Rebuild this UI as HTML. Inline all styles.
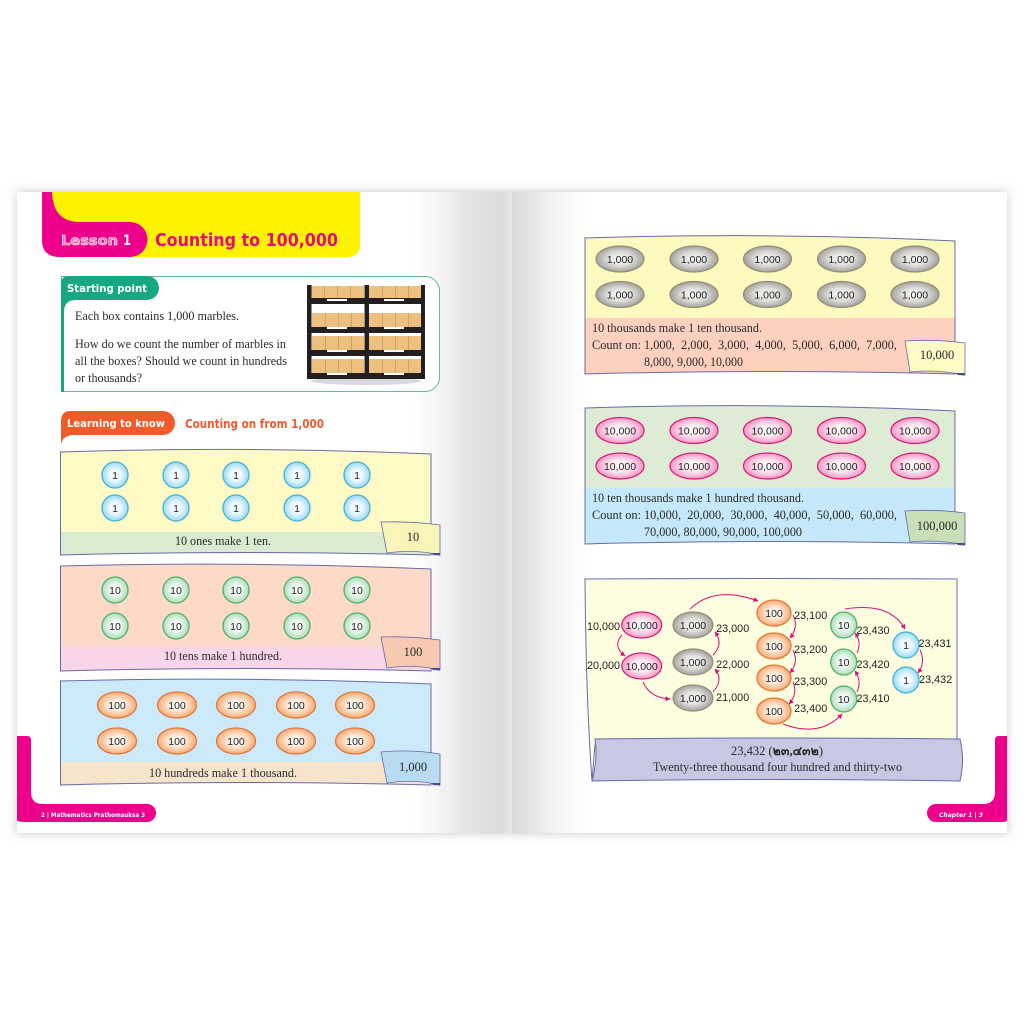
<!DOCTYPE html>
<html><head><meta charset="utf-8">
<style>
html,body{margin:0;padding:0;background:#fff;width:1024px;height:1024px;overflow:hidden}
svg{display:block}
.s{font-family:"Liberation Serif",serif;font-size:12.5px;fill:#2b2b2b;white-space:pre}
.c{font-family:"Liberation Sans",sans-serif;font-size:10.5px;fill:#222;text-anchor:middle}
.l{font-family:"Liberation Sans",sans-serif;font-size:10.8px;fill:#222;text-anchor:middle}
.p{stroke:#6a6aa8;stroke-width:1;fill:none}
.a{fill:none;stroke:#d6147f;stroke-width:1;marker-end:url(#ah)}
.b1{fill:url(#g1);stroke:#3fb3d8;stroke-width:1.3}
.b2{fill:url(#g2);stroke:#4fb36c;stroke-width:1.3}
.b3{fill:url(#g3);stroke:#e2773a;stroke-width:1.3}
.b4{fill:url(#g4);stroke:#938d78;stroke-width:1.2}
.b5{fill:url(#g5);stroke:#d81b78;stroke-width:1.2}
</style></head><body>
<svg width="1024" height="1024" viewBox="0 0 1024 1024" xmlns="http://www.w3.org/2000/svg">
<defs>
<linearGradient id="lp" x1="0" x2="1" y1="0" y2="0">
<stop offset="0" stop-color="#fff"/><stop offset=".8" stop-color="#fff"/><stop offset=".87" stop-color="#f0f0f0"/><stop offset=".9" stop-color="#e6e6e6"/><stop offset=".98" stop-color="#dbdbdb"/><stop offset="1" stop-color="#e9e9e9"/></linearGradient>
<linearGradient id="rp" x1="0" x2="1" y1="0" y2="0">
<stop offset="0" stop-color="#d9d9d9"/><stop offset=".07" stop-color="#efefef"/><stop offset=".13" stop-color="#fcfcfc"/><stop offset=".16" stop-color="#fff"/><stop offset="1" stop-color="#fff"/></linearGradient>
<radialGradient id="g1"><stop offset="0" stop-color="#fff"/><stop offset=".45" stop-color="#eaf8fe"/><stop offset="1" stop-color="#9bd9f4"/></radialGradient>
<radialGradient id="g2"><stop offset="0" stop-color="#fff"/><stop offset=".45" stop-color="#eaf7ee"/><stop offset="1" stop-color="#aedcba"/></radialGradient>
<radialGradient id="g3"><stop offset="0" stop-color="#fff"/><stop offset=".4" stop-color="#fdeedf"/><stop offset="1" stop-color="#f8ac74"/></radialGradient>
<radialGradient id="g4"><stop offset="0" stop-color="#fafafa"/><stop offset=".5" stop-color="#e0dfdd"/><stop offset="1" stop-color="#a5a29d"/></radialGradient>
<radialGradient id="g5"><stop offset="0" stop-color="#fff"/><stop offset=".45" stop-color="#fdeaf3"/><stop offset="1" stop-color="#f596c5"/></radialGradient>
<marker id="ah" markerWidth="6" markerHeight="6" refX="4.5" refY="2.5" orient="auto" markerUnits="userSpaceOnUse"><path d="M0,0L5,2.5L0,5Z" fill="#d6147f"/></marker>
<filter id="sh" x="-5%" y="-5%" width="110%" height="110%"><feGaussianBlur stdDeviation="5"/></filter>
<clipPath id="c1"><path d="M60,452Q245,446 431,454V555Q245,550 60,555Z"/></clipPath>
<clipPath id="c2"><path d="M60,566Q245,561 431,569V671Q245,666 60,671Z"/></clipPath>
<clipPath id="c3"><path d="M60,681Q245,676 431,684V785Q245,780 60,785Z"/></clipPath>
<clipPath id="c4"><path d="M585,238Q770,232 955,241V374Q770,369 585,374Z"/></clipPath>
<clipPath id="c5"><path d="M585,408Q770,402 955,411V544Q770,539 585,544Z"/></clipPath>
</defs>

<!-- page -->
<rect x="17" y="192" width="990" height="641" fill="#888" opacity=".45" filter="url(#sh)"/>
<rect x="17" y="192" width="495" height="641" fill="url(#lp)"/>
<rect x="512" y="192" width="495" height="641" fill="url(#rp)"/>

<!-- header -->
<path d="M52,192H360V245Q360,257 346,257H100V222H80Q53,222 52,192Z" fill="#fff200"/>
<path d="M42,192H52Q53,222 80,222H130A17.5,17.5 0 0 1 130,257H60Q42,257 42,240Z" fill="#ec008c"/>
<text x="61" y="245" textLength="57" lengthAdjust="spacingAndGlyphs" font-family="DejaVu Sans" font-size="13" font-weight="bold" fill="#f070b0" stroke="#fff" stroke-width=".6">Lesson</text>
<text x="123" y="245" textLength="8" lengthAdjust="spacingAndGlyphs" font-family="DejaVu Sans" font-size="14" font-weight="bold" fill="#fff">1</text>
<text x="155" y="246" textLength="183" lengthAdjust="spacingAndGlyphs" font-family="DejaVu Sans" font-size="18" font-weight="bold" fill="#e0107a">Counting to 100,000</text>

<!-- starting point -->
<path d="M61.500,276.500H425A14.500,14.500 0 0 1 439.500,291V377A14.500,14.500 0 0 1 425,391.500H61.500Z" fill="#fff" stroke="#62b8a2" stroke-width="1"/>
<path d="M61,392V284Q61,276 69,276H147A12,12 0 0 1 147,300H76Q64,300 64,312V392Z" fill="#17a883"/>
<text x="67" y="292" textLength="80" lengthAdjust="spacingAndGlyphs" font-family="DejaVu Sans" font-size="11" font-weight="bold" fill="#fff">Starting point</text>
<text class="s" x="75" y="320" textLength="164" lengthAdjust="spacingAndGlyphs">Each box contains 1,000 marbles.</text>
<text class="s" x="75" y="348" textLength="211" lengthAdjust="spacingAndGlyphs">How do we count the number of marbles in</text>
<text class="s" x="75" y="365" textLength="212" lengthAdjust="spacingAndGlyphs">all the boxes? Should we count in hundreds</text>
<text class="s" x="75" y="382" textLength="67" lengthAdjust="spacingAndGlyphs">or thousands?</text>

<!-- shelf -->
<ellipse cx="366" cy="381" rx="55" ry="4" fill="#d8d8e0"/>
<g fill="#eec07f">
<rect x="311" y="286" width="53" height="12"/><rect x="369" y="286" width="53" height="12"/>
<rect x="312" y="313" width="52" height="14"/><rect x="369" y="313" width="53" height="14"/>
<rect x="312" y="336" width="52" height="14"/><rect x="369" y="336" width="53" height="14"/>
<rect x="312" y="359" width="52" height="14"/><rect x="369" y="359" width="53" height="14"/>
</g>
<g fill="#cda269">
<rect x="324" y="286" width="1" height="12"/><rect x="337" y="286" width="1" height="12"/><rect x="350" y="286" width="1" height="12"/>
<rect x="382" y="286" width="1" height="12"/><rect x="395" y="286" width="1" height="12"/><rect x="408" y="286" width="1" height="12"/>
<rect x="325" y="313" width="1" height="14"/><rect x="338" y="313" width="1" height="14"/><rect x="351" y="313" width="1" height="14"/>
<rect x="382" y="313" width="1" height="14"/><rect x="395" y="313" width="1" height="14"/><rect x="408" y="313" width="1" height="14"/>
<rect x="325" y="336" width="1" height="14"/><rect x="338" y="336" width="1" height="14"/><rect x="351" y="336" width="1" height="14"/>
<rect x="382" y="336" width="1" height="14"/><rect x="395" y="336" width="1" height="14"/><rect x="408" y="336" width="1" height="14"/>
<rect x="325" y="359" width="1" height="14"/><rect x="338" y="359" width="1" height="14"/><rect x="351" y="359" width="1" height="14"/>
<rect x="382" y="359" width="1" height="14"/><rect x="395" y="359" width="1" height="14"/><rect x="408" y="359" width="1" height="14"/>
</g>
<g fill="#231f20">
<rect x="307" y="285" width="4.500" height="94"/><rect x="364.500" y="285" width="4.500" height="94"/><rect x="421" y="285" width="4" height="94"/>
<rect x="307" y="298" width="118" height="6"/><rect x="307" y="327" width="118" height="6"/><rect x="307" y="350" width="118" height="6"/><rect x="307" y="373" width="118" height="6"/>
</g>
<g fill="#fff">
<rect x="327" y="299" width="20" height="2"/><rect x="384" y="299" width="20" height="2"/>
<rect x="327" y="327" width="20" height="2"/><rect x="384" y="327" width="20" height="2"/>
<rect x="327" y="350" width="20" height="2"/><rect x="384" y="350" width="20" height="2"/>
<rect x="327" y="373" width="20" height="2"/><rect x="384" y="373" width="20" height="2"/>
</g>

<!-- learning -->
<path d="M61,444V421Q61,411 71,411H163A12,12 0 0 1 163,435H72Q63,436 61,444Z" fill="#f15a29"/>
<text x="67" y="427" textLength="98" lengthAdjust="spacingAndGlyphs" font-family="DejaVu Sans" font-size="11" font-weight="bold" fill="#fff">Learning to know</text>
<text x="185" y="428" textLength="139" lengthAdjust="spacingAndGlyphs" font-family="DejaVu Sans" font-size="12" font-weight="bold" fill="#f15a29">Counting on from 1,000</text>

<!-- panel 1 -->
<g clip-path="url(#c1)"><rect x="60" y="440" width="372" height="92" fill="#fdfac6"/><rect x="60" y="532" width="372" height="25" fill="#d9ebd0"/></g>
<path class="p" d="M60.500,452Q245,446 431,454V555Q245,550 60.500,555Z"/>
<path d="M381,522Q410,521 440,525V555Q415,549 387,553Z" fill="#f9f5b8" stroke="#6a6aa8" stroke-width=".8"/>
<path d="M431,553L440,553V555.500L433,555Z" fill="#4a4a9a"/>
<text class="s" x="175" y="545" textLength="96" lengthAdjust="spacingAndGlyphs">10 ones make 1 ten.</text>
<text class="s" x="413" y="541" text-anchor="middle">10</text>
<circle class="b1" cx="115" cy="475" r="13"/><circle class="b1" cx="176" cy="475" r="13"/><circle class="b1" cx="236" cy="475" r="13"/><circle class="b1" cx="297" cy="475" r="13"/><circle class="b1" cx="357" cy="475" r="13"/>
<circle class="b1" cx="115" cy="508" r="13"/><circle class="b1" cx="176" cy="508" r="13"/><circle class="b1" cx="236" cy="508" r="13"/><circle class="b1" cx="297" cy="508" r="13"/><circle class="b1" cx="357" cy="508" r="13"/>
<text class="c" x="115" y="479">1</text><text class="c" x="176" y="479">1</text><text class="c" x="236" y="479">1</text><text class="c" x="297" y="479">1</text><text class="c" x="357" y="479">1</text>
<text class="c" x="115" y="512">1</text><text class="c" x="176" y="512">1</text><text class="c" x="236" y="512">1</text><text class="c" x="297" y="512">1</text><text class="c" x="357" y="512">1</text>

<!-- panel 2 -->
<g clip-path="url(#c2)"><rect x="60" y="555" width="372" height="92" fill="#fdd9c8"/><rect x="60" y="647" width="372" height="25" fill="#f9d5ea"/></g>
<path class="p" d="M60.500,566Q245,561 431,569V671Q245,666 60.500,671Z"/>
<path d="M381,637Q410,636 440,640V670Q415,664 387,668Z" fill="#f7c9b0" stroke="#6a6aa8" stroke-width=".8"/>
<path d="M431,668L440,668V670.500L433,670Z" fill="#4a4a9a"/>
<text class="s" x="164" y="660" textLength="118" lengthAdjust="spacingAndGlyphs">10 tens make 1 hundred.</text>
<text class="s" x="413" y="656" text-anchor="middle">100</text>
<circle class="b2" cx="115" cy="590" r="13"/><circle class="b2" cx="176" cy="590" r="13"/><circle class="b2" cx="236" cy="590" r="13"/><circle class="b2" cx="297" cy="590" r="13"/><circle class="b2" cx="357" cy="590" r="13"/>
<circle class="b2" cx="115" cy="626" r="13"/><circle class="b2" cx="176" cy="626" r="13"/><circle class="b2" cx="236" cy="626" r="13"/><circle class="b2" cx="297" cy="626" r="13"/><circle class="b2" cx="357" cy="626" r="13"/>
<text class="c" x="115" y="594">10</text><text class="c" x="176" y="594">10</text><text class="c" x="236" y="594">10</text><text class="c" x="297" y="594">10</text><text class="c" x="357" y="594">10</text>
<text class="c" x="115" y="630">10</text><text class="c" x="176" y="630">10</text><text class="c" x="236" y="630">10</text><text class="c" x="297" y="630">10</text><text class="c" x="357" y="630">10</text>

<!-- panel 3 -->
<g clip-path="url(#c3)"><rect x="60" y="670" width="372" height="92" fill="#cdeafb"/><rect x="60" y="762" width="372" height="25" fill="#f7e4cc"/></g>
<path class="p" d="M60.500,681Q245,676 431,684V785Q245,780 60.500,785Z"/>
<path d="M381,752Q410,749 440,754V785Q415,779 387,783Z" fill="#b9dcf3" stroke="#6a6aa8" stroke-width=".8"/>
<path d="M431,783L440,783V785.500L433,785Z" fill="#4a4a9a"/>
<text class="s" x="149" y="777" textLength="148" lengthAdjust="spacingAndGlyphs">10 hundreds make 1 thousand.</text>
<text class="s" x="413" y="771" text-anchor="middle">1,000</text>
<ellipse class="b3" cx="117" cy="705" rx="19.500" ry="13"/><ellipse class="b3" cx="177" cy="705" rx="19.500" ry="13"/><ellipse class="b3" cx="236" cy="705" rx="19.500" ry="13"/><ellipse class="b3" cx="296" cy="705" rx="19.500" ry="13"/><ellipse class="b3" cx="355" cy="705" rx="19.500" ry="13"/>
<ellipse class="b3" cx="117" cy="741" rx="19.500" ry="13"/><ellipse class="b3" cx="177" cy="741" rx="19.500" ry="13"/><ellipse class="b3" cx="236" cy="741" rx="19.500" ry="13"/><ellipse class="b3" cx="296" cy="741" rx="19.500" ry="13"/><ellipse class="b3" cx="355" cy="741" rx="19.500" ry="13"/>
<text class="c" x="117" y="709">100</text><text class="c" x="177" y="709">100</text><text class="c" x="236" y="709">100</text><text class="c" x="296" y="709">100</text><text class="c" x="355" y="709">100</text>
<text class="c" x="117" y="745">100</text><text class="c" x="177" y="745">100</text><text class="c" x="236" y="745">100</text><text class="c" x="296" y="745">100</text><text class="c" x="355" y="745">100</text>

<!-- footer tabs -->
<path d="M17,736H27Q31,736 31,740V792Q31,804 43,804H147A9,9 0 0 1 147,822H25Q17,822 17,820Z" fill="#ec008c"/>
<text x="41" y="817" textLength="104" lengthAdjust="spacingAndGlyphs" font-family="DejaVu Sans" font-size="6.500" font-weight="bold" fill="#fff">2 | Mathematics Prathomsuksa 3</text>
<path d="M1007,736H999Q995,736 995,740V792Q995,804 983,804H936A9,9 0 0 0 936,822H1002Q1007,822 1007,820Z" fill="#ec008c"/>
<text x="939" y="817" textLength="44" lengthAdjust="spacingAndGlyphs" font-family="DejaVu Sans" font-size="6.500" font-weight="bold" font-style="italic" fill="#fff">Chapter 1 | 3</text>

<!-- right A -->
<g clip-path="url(#c4)"><rect x="585" y="230" width="371" height="88" fill="#fdfac0"/><rect x="585" y="318" width="371" height="58" fill="#fdd0bf"/></g>
<path class="p" d="M585,238Q770,232 955,241V374Q770,369 585,374Z"/>
<path d="M905,341Q935,339 965,343V375Q935,369 910,372Z" fill="#fdfac5" stroke="#6a6aa8" stroke-width=".8"/>
<path d="M955,373L965,373V375.500L958,375Z" fill="#4a4a9a"/>
<text class="s" x="592" y="332" textLength="170" lengthAdjust="spacingAndGlyphs">10 thousands make 1 ten thousand.</text>
<text class="s" x="592" y="349" textLength="49" lengthAdjust="spacingAndGlyphs">Count on:</text>
<text class="s" x="644" y="349" textLength="253" lengthAdjust="spacingAndGlyphs">1,000,  2,000,  3,000,  4,000,  5,000,  6,000,  7,000,</text>
<text class="s" x="644" y="366" textLength="99" lengthAdjust="spacingAndGlyphs">8,000, 9,000, 10,000</text>
<text class="s" x="937" y="359" text-anchor="middle">10,000</text>
<ellipse class="b4" cx="620" cy="259" rx="24" ry="13"/><ellipse class="b4" cx="694" cy="259" rx="24" ry="13"/><ellipse class="b4" cx="767.500" cy="259" rx="24" ry="13"/><ellipse class="b4" cx="841.500" cy="259" rx="24" ry="13"/><ellipse class="b4" cx="915" cy="259" rx="24" ry="13"/>
<ellipse class="b4" cx="620" cy="294.500" rx="24" ry="13"/><ellipse class="b4" cx="694" cy="294.500" rx="24" ry="13"/><ellipse class="b4" cx="767.500" cy="294.500" rx="24" ry="13"/><ellipse class="b4" cx="841.500" cy="294.500" rx="24" ry="13"/><ellipse class="b4" cx="915" cy="294.500" rx="24" ry="13"/>
<text class="c" x="620" y="263">1,000</text><text class="c" x="694" y="263">1,000</text><text class="c" x="767.500" y="263">1,000</text><text class="c" x="841.500" y="263">1,000</text><text class="c" x="915" y="263">1,000</text>
<text class="c" x="620" y="298.500">1,000</text><text class="c" x="694" y="298.500">1,000</text><text class="c" x="767.500" y="298.500">1,000</text><text class="c" x="841.500" y="298.500">1,000</text><text class="c" x="915" y="298.500">1,000</text>

<!-- right B -->
<g clip-path="url(#c5)"><rect x="585" y="400" width="371" height="88" fill="#deecd5"/><rect x="585" y="488" width="371" height="58" fill="#c5e8fb"/></g>
<path class="p" d="M585,408Q770,402 955,411V544Q770,539 585,544Z"/>
<path d="M905,511Q935,509 965,513V545Q935,539 910,542Z" fill="#c9dfb8" stroke="#6a6aa8" stroke-width=".8"/>
<path d="M955,543L965,543V545.500L958,545Z" fill="#4a4a9a"/>
<text class="s" x="592" y="502" textLength="212" lengthAdjust="spacingAndGlyphs">10 ten thousands make 1 hundred thousand.</text>
<text class="s" x="592" y="519" textLength="49" lengthAdjust="spacingAndGlyphs">Count on:</text>
<text class="s" x="644" y="519" textLength="253" lengthAdjust="spacingAndGlyphs">10,000,  20,000,  30,000,  40,000,  50,000,  60,000,</text>
<text class="s" x="644" y="536" textLength="158" lengthAdjust="spacingAndGlyphs">70,000, 80,000, 90,000, 100,000</text>
<text class="s" x="937" y="530" text-anchor="middle">100,000</text>
<ellipse class="b5" cx="620" cy="430.500" rx="24" ry="13"/><ellipse class="b5" cx="694" cy="430.500" rx="24" ry="13"/><ellipse class="b5" cx="767.500" cy="430.500" rx="24" ry="13"/><ellipse class="b5" cx="841.500" cy="430.500" rx="24" ry="13"/><ellipse class="b5" cx="915" cy="430.500" rx="24" ry="13"/>
<ellipse class="b5" cx="620" cy="466" rx="24" ry="13"/><ellipse class="b5" cx="694" cy="466" rx="24" ry="13"/><ellipse class="b5" cx="767.500" cy="466" rx="24" ry="13"/><ellipse class="b5" cx="841.500" cy="466" rx="24" ry="13"/><ellipse class="b5" cx="915" cy="466" rx="24" ry="13"/>
<text class="c" x="620" y="434.500">10,000</text><text class="c" x="694" y="434.500">10,000</text><text class="c" x="767.500" y="434.500">10,000</text><text class="c" x="841.500" y="434.500">10,000</text><text class="c" x="915" y="434.500">10,000</text>
<text class="c" x="620" y="470">10,000</text><text class="c" x="694" y="470">10,000</text><text class="c" x="767.500" y="470">10,000</text><text class="c" x="841.500" y="470">10,000</text><text class="c" x="915" y="470">10,000</text>

<!-- right C -->
<path d="M585,579Q770,578 957,579L957,745H595L592,781Q586,700 585,579Z" fill="#fdfddf" stroke="#6a6aa8"/>
<path d="M595,739Q780,737 960,739Q965,760 960,781Q770,778 592,781Q598,760 595,739Z" fill="#c8c8e4" stroke="#6a6aa8"/>
<text class="s" x="777" y="755" text-anchor="middle" style='font-family:"Liberation Serif","DejaVu Sans",serif'>23,432 (<tspan font-weight="bold">๒๓,๔๓๒</tspan>)</text>
<text class="s" x="653" y="771" textLength="249" lengthAdjust="spacingAndGlyphs">Twenty-three thousand four hundred and thirty-two</text>

<path class="a" d="M622,635Q612,646 625,656"/>
<path class="a" d="M643,682Q650,698 670,699"/>
<path class="a" d="M713,692Q724,680 715,669"/>
<path class="a" d="M713,655Q724,644 715,632"/>
<path class="a" d="M690,609Q715,585 758,601"/>
<path class="a" d="M793,615Q799,627 790,638"/>
<path class="a" d="M793,650Q799,662 790,673"/>
<path class="a" d="M793,682Q798,694 789,704"/>
<path class="a" d="M783,724Q820,738 842,714"/>
<path class="a" d="M857,692Q862,681 855,671"/>
<path class="a" d="M857,653Q862,642 855,633"/>
<path class="a" d="M845,609Q890,602 905,629"/>
<path class="a" d="M920,650Q926,662 918,673"/>

<ellipse class="b5" cx="641.700" cy="625" rx="20" ry="13"/><ellipse class="b5" cx="641.700" cy="666" rx="20" ry="13"/>
<ellipse class="b4" cx="693" cy="625" rx="20" ry="13"/><ellipse class="b4" cx="693" cy="662" rx="20" ry="13"/><ellipse class="b4" cx="693" cy="698" rx="20" ry="13"/>
<ellipse class="b3" cx="774" cy="613" rx="17" ry="13"/><ellipse class="b3" cx="774" cy="646" rx="17" ry="13"/><ellipse class="b3" cx="774" cy="678" rx="17" ry="13"/><ellipse class="b3" cx="774" cy="711" rx="17" ry="13"/>
<circle class="b2" cx="843.700" cy="625" r="13"/><circle class="b2" cx="843.700" cy="662" r="13"/><circle class="b2" cx="843.700" cy="699" r="13"/>
<circle class="b1" cx="906" cy="645" r="13"/><circle class="b1" cx="906" cy="680" r="13"/>
<text class="c" x="641.700" y="629">10,000</text><text class="c" x="641.700" y="670">10,000</text>
<text class="c" x="693" y="629">1,000</text><text class="c" x="693" y="666">1,000</text><text class="c" x="693" y="702">1,000</text>
<text class="c" x="774" y="617">100</text><text class="c" x="774" y="650">100</text><text class="c" x="774" y="682">100</text><text class="c" x="774" y="715">100</text>
<text class="c" x="843.700" y="629">10</text><text class="c" x="843.700" y="666">10</text><text class="c" x="843.700" y="703">10</text>
<text class="c" x="906" y="649">1</text><text class="c" x="906" y="684">1</text>
<text class="l" x="603.500" y="630">10,000</text><text class="l" x="603.500" y="669">20,000</text>
<text class="l" x="732.700" y="632">23,000</text><text class="l" x="732.700" y="668">22,000</text><text class="l" x="732.700" y="701">21,000</text>
<text class="l" x="810.700" y="619">23,100</text><text class="l" x="810.700" y="653">23,200</text><text class="l" x="810.700" y="685">23,300</text><text class="l" x="810.700" y="712">23,400</text>
<text class="l" x="873" y="634">23,430</text><text class="l" x="873" y="668">23,420</text><text class="l" x="873" y="702">23,410</text>
<text class="l" x="935" y="647">23,431</text><text class="l" x="935.700" y="683">23,432</text>
</svg>
</body></html>
